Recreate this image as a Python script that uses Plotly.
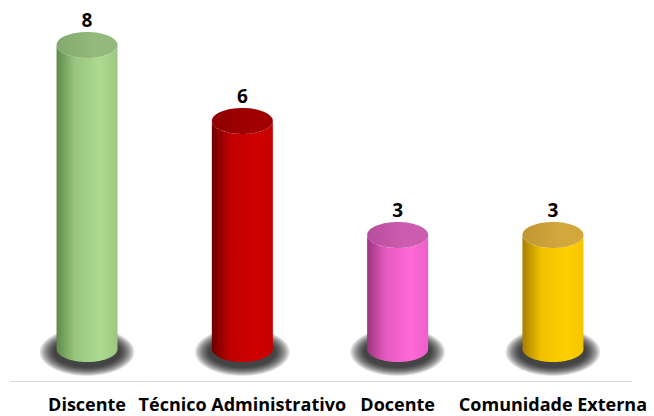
import numpy as np
import plotly.graph_objects as go

categories = ["Discente", "Técnico Administrativo", "Docente", "Comunidade Externa"]
values = [8, 6, 3, 3]
value_labels = ["8", "6", "3", "3"]

# colour styles per bar: (dark, mid, light, edge, top_dark, top_light)
styles = [
    ("#5f8a48", "#98c47e", "#addb90", "#9cc682", "#82a86c", "#93b97c"),
    ("#6e0000", "#c00000", "#d20000", "#c20000", "#8e0000", "#a00000"),
    ("#9c3580", "#e55ac0", "#ff68d8", "#ee5fc8", "#b84c9c", "#cc5cae"),
    ("#a87e00", "#f0c000", "#ffd000", "#f5c400", "#bf9632", "#d2a73c"),
]

W, H = 654, 416
ML, MR, MT, MB = 10, 22, 0, 35
XR = [-0.496, 3.509]
YR = [-0.842, 9.184]
px_x = (W - ML - MR) / (XR[1] - XR[0])
px_y = (H - MT - MB) / (YR[1] - YR[0])
RX = 30.5 / px_x
RY = 13.0 / px_y

fig = go.Figure()
t = np.linspace(0, np.pi, 60)
tt = np.linspace(0, 2 * np.pi, 100)

for i, (v, st) in enumerate(zip(values, styles)):
    dark, mid, light, edge, tdark, tlight = st
    # shadow (blurred by layering)
    n = 14
    for k in range(n):
        f = 1 - k / n
        srx = (30.5 + 2 + 15 * f) / px_x
        sry = (13 + 2 + 9 * f) / px_y
        cy = -3 / px_y
        fig.add_trace(go.Scatter(
            x=i + srx * np.cos(tt), y=cy + sry * np.sin(tt),
            fill="toself", fillcolor="rgba(0,0,0,0.085)", mode="none",
            hoverinfo="skip", showlegend=False))
    # body
    xs = np.concatenate([
        [i - RX, i - RX],
        i - RX * np.cos(t),
        [i + RX, i + RX],
        i + RX * np.cos(t),
    ])
    ys = np.concatenate([
        [0, v],
        v - RY * np.sin(t),
        [v, 0],
        0 - RY * np.sin(t),
    ])
    fig.add_trace(go.Scatter(
        x=xs, y=ys, fill="toself", mode="none",
        fillgradient=dict(type="horizontal",
                          colorscale=[[0, dark], [0.3, mid], [0.72, light], [1, edge]]),
        hoverinfo="skip", showlegend=False))
    # top
    fig.add_trace(go.Scatter(
        x=i + RX * np.cos(tt), y=v + RY * np.sin(tt), fill="toself", mode="none",
        fillgradient=dict(type="horizontal",
                          colorscale=[[0, tdark], [0.6, tlight], [1, tlight]]),
        hoverinfo="skip", showlegend=False))

fig.add_trace(go.Scatter(
    x=list(range(len(values))), y=[v + RY for v in values],
    mode="text", text=value_labels, textposition="top center",
    textfont=dict(family="Open Sans", size=19, color="black", weight="bold"),
    hoverinfo="skip", showlegend=False, cliponaxis=False))

fig.update_layout(
    width=W, height=H, margin=dict(l=ML, r=MR, t=MT, b=MB),
    plot_bgcolor="white", paper_bgcolor="white",
    xaxis=dict(range=XR, tickvals=list(range(len(categories))), ticktext=categories,
               showgrid=False, zeroline=False, showline=True, linecolor="#d9d9d9",
               linewidth=1, ticks="", fixedrange=True, ticklabelstandoff=7,
               automargin=False,
               tickfont=dict(family="Open Sans", size=18, color="black", weight="bold")),
    yaxis=dict(range=YR, visible=False, fixedrange=True, automargin=False),
)
fig.write_html("out.html")
